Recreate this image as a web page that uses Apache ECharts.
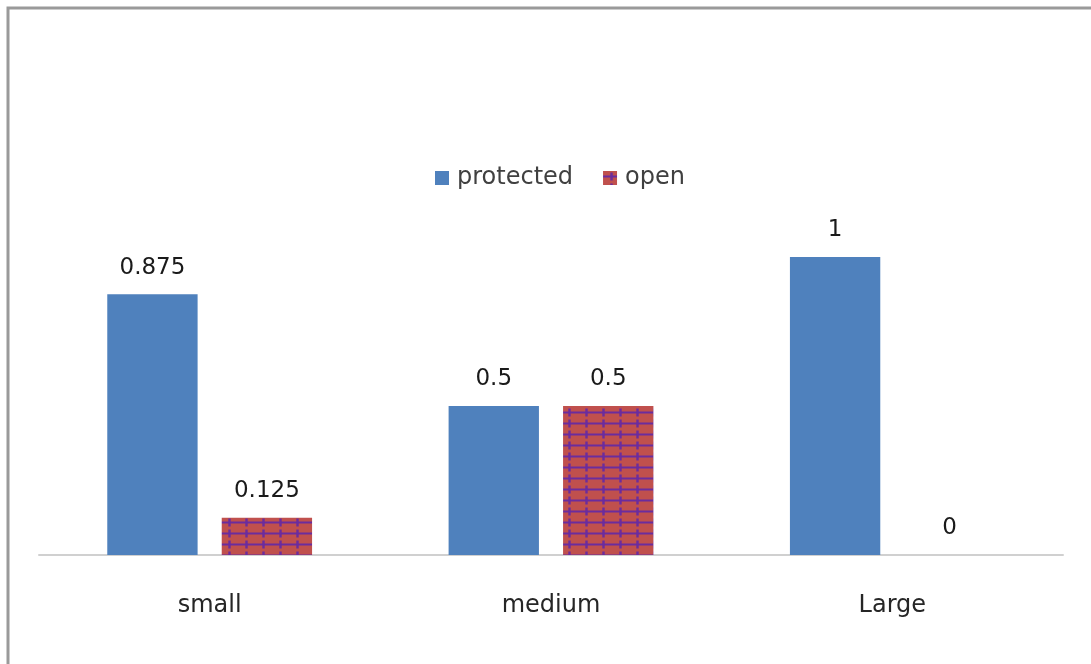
<!DOCTYPE html>
<html>
<head>
<meta charset="utf-8">
<script src="https://cdn.jsdelivr.net/npm/echarts@6/dist/echarts.min.js"></script>
<style>
  html, body { margin: 0; padding: 0; background: #fff; }
  #main { width: 1091px; height: 664px; }
</style>
</head>
<body>
<div id="main"></div>
<script>
var categories = ['small', 'medium', 'Large'];
var seriesNames = ['protected', 'open'];
var protectedVals = [0.875, 0.5, 1];
var openVals = [0.125, 0.5, 0];

// grid-like pattern of the "open" series
function makePattern() {
    var c = document.createElement('canvas');
    c.width = 17; c.height = 11;
    var ctx = c.getContext('2d');
    ctx.fillStyle = '#C0504D';
    ctx.fillRect(0, 0, 17, 11);
    ctx.strokeStyle = '#6B2C9E';
    ctx.lineWidth = 2;
    ctx.beginPath();
    ctx.moveTo(0, 5.5); ctx.lineTo(17, 5.5);
    ctx.stroke();
    ctx.lineWidth = 2.4;
    ctx.beginPath();
    ctx.moveTo(8.5, 1.5); ctx.lineTo(8.5, 9.5);
    ctx.stroke();
    return c;
}

var font = 'DejaVu Sans';
var chart = echarts.init(document.getElementById('main'));
chart.setOption({
    animation: false,
    textStyle: { fontFamily: font },
    graphic: [
        { type: 'rect', shape: { x: 8, y: 8, width: 1200, height: 800 },
          style: { fill: 'none', stroke: '#9a9a9a', lineWidth: 3 }, z: 10 }
    ],
    legend: {
        left: 430, top: 161,
        icon: 'rect',
        itemWidth: 14, itemHeight: 14, itemGap: 30,
        textStyle: { fontFamily: font, fontSize: 24, color: '#404040', padding: [0, 0, 0, 3] },
        data: seriesNames
    },
    grid: { left: 39, right: 28, top: 108, bottom: 109 },
    xAxis: {
        type: 'category',
        data: categories,
        axisLine: { lineStyle: { color: '#d0d0d0', width: 2 } },
        axisTick: { show: false },
        axisLabel: { margin: 39, fontFamily: font, fontSize: 24, color: '#262626' }
    },
    yAxis: {
        type: 'value', min: 0, max: 1.5,
        show: false, splitLine: { show: false }
    },
    series: [
        {
            name: seriesNames[0], type: 'bar', data: protectedVals,
            barGap: '26.7%', barCategoryGap: '40%',
            itemStyle: { color: '#4F81BD' },
            label: { show: true, position: 'top', distance: 15, fontFamily: font, fontSize: 23, color: '#1a1a1a' }
        },
        {
            name: seriesNames[1], type: 'bar', data: openVals,
            itemStyle: { color: { image: makePattern(), repeat: 'repeat' } },
            label: { show: true, position: 'top', distance: 15, fontFamily: font, fontSize: 23, color: '#1a1a1a' }
        }
    ]
});
</script>
</body>
</html>
